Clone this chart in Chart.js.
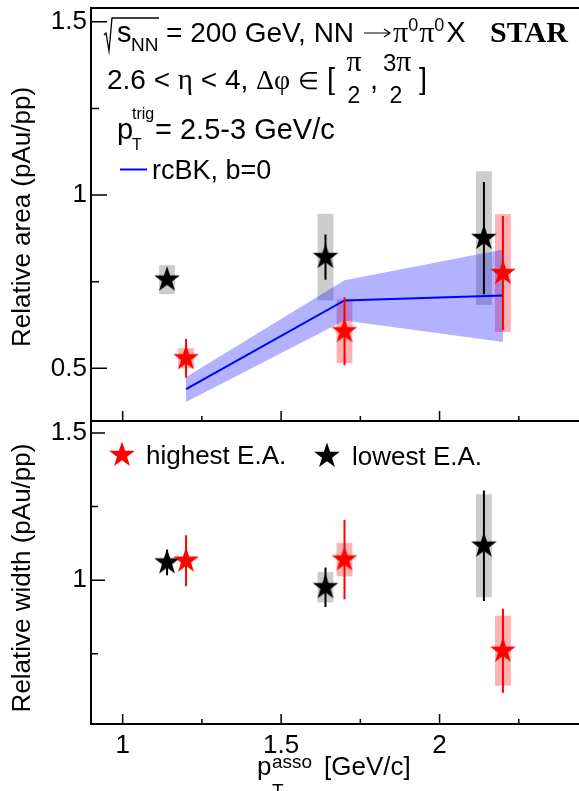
<!DOCTYPE html>
<html>
<head>
<meta charset="utf-8">
<script src="https://cdn.jsdelivr.net/npm/chart.js@4/dist/chart.umd.min.js"></script>
<style>
html, body { margin: 0; padding: 0; background: #fff; overflow: hidden; }
#wrap { position: relative; width: 579px; height: 791px; overflow: hidden; background: #fff; }
canvas { position: absolute; left: 0; }
</style>
</head>
<body>
<div id="wrap">
  <canvas id="cTop" width="600" height="425" style="top:0px"></canvas>
  <canvas id="cBot" width="600" height="372" style="top:419px"></canvas>
</div>
<script>
// x positions (GeV/c), lowest E.A. drawn slightly left, highest slightly right
const ptLow = [1.14, 1.64, 2.14];
const ptHigh = [1.20, 1.70, 2.20];

// relative area
const areaLow = [0.756, 0.821, 0.876];
const areaLowStat = [0.006, 0.065, 0.162];
const areaLowSys = [0.042, 0.125, 0.193];
const areaHigh = [0.529, 0.607, 0.775];
const areaHighStat = [0.056, 0.098, 0.165];
const areaHighSys = [0.029, 0.092, 0.170];

// rcBK, b=0 curve + band
const rcX = [1.2, 1.7, 2.2];
const rcMid = [0.440, 0.696, 0.710];
const rcUp = [0.475, 0.754, 0.843];
const rcLo = [0.403, 0.638, 0.576];

// relative width
const widthLow = [1.060, 0.976, 1.117];
const widthLowStat = [0.043, 0.067, 0.188];
const widthLowSys = [0.0, 0.052, 0.175];
const widthHigh = [1.066, 1.070, 0.760];
const widthHighStat = [0.087, 0.135, 0.143];
const widthHighSys = [0.0, 0.057, 0.119];

// tick labels
const xTicks = [1, 1.5, 2];
const xMinor = [1.25, 1.75, 2.25];
const areaTicks = [0.5, 1, 1.5];
const areaMinor = [0.75, 1.25];
const widthTicks = [1, 1.5];
const widthMinor = [0.75, 1.25];

const SANS = '"Liberation Sans", Arial, Helvetica, sans-serif';
const SERIF = '"Liberation Serif", "Times New Roman", serif';

function makeStar(color) {
  const c = document.createElement('canvas');
  c.width = 30; c.height = 30;
  const g = c.getContext('2d');
  const R = 13.5, r = 5.3;
  g.beginPath();
  for (let i = 0; i < 10; i++) {
    const a = -Math.PI / 2 + i * Math.PI / 5;
    const rr = i % 2 === 0 ? R : r;
    g.lineTo(15 + rr * Math.cos(a), 15 + rr * Math.sin(a));
  }
  g.closePath();
  g.fillStyle = color;
  g.fill();
  return c;
}
const redStar = makeStar('#ff0000');
const blackStar = makeStar('#000000');

function pts(xs, ys) {
  return xs.map((x, i) => ({ x: x, y: ys[i] }));
}

// draw text, return advance
function txt(ctx, s, x, y, size, fam, weight, align) {
  ctx.font = (weight || '') + ' ' + size + 'px ' + (fam || SANS);
  ctx.textAlign = align || 'left';
  ctx.textBaseline = 'alphabetic';
  ctx.fillText(s, x, y);
  return ctx.measureText(s).width;
}

function drawFrame(chart) {
  const ctx = chart.ctx, a = chart.chartArea;
  ctx.save();
  ctx.strokeStyle = '#000';
  ctx.lineWidth = 2;
  ctx.strokeRect(a.left, a.top, a.right - a.left, a.bottom - a.top);
  ctx.restore();
}

// ROOT style ticks pointing inwards
function drawTicks(chart, yMaj, yMin, yMajLen, yMinLen) {
  const ctx = chart.ctx, a = chart.chartArea;
  const xs = chart.scales.x, ys = chart.scales.y;
  ctx.save();
  ctx.strokeStyle = '#000';
  ctx.lineWidth = 1.5;
  ctx.beginPath();
  yMaj.forEach(v => { const p = ys.getPixelForValue(v); ctx.moveTo(a.left, p); ctx.lineTo(a.left + yMajLen, p); });
  yMin.forEach(v => { const p = ys.getPixelForValue(v); ctx.moveTo(a.left, p); ctx.lineTo(a.left + yMinLen, p); });
  xTicks.forEach(v => { const p = xs.getPixelForValue(v); ctx.moveTo(p, a.bottom); ctx.lineTo(p, a.bottom - 10); });
  xMinor.forEach(v => { const p = xs.getPixelForValue(v); ctx.moveTo(p, a.bottom); ctx.lineTo(p, a.bottom - 5); });
  ctx.stroke();
  ctx.restore();
}

// systematic boxes behind everything, stat bars under each star set
const errBars = {
  id: 'errBars',
  beforeDatasetsDraw(chart) {
    const ctx = chart.ctx, xs = chart.scales.x, ys = chart.scales.y;
    ctx.save();
    chart.data.datasets.forEach(ds => {
      if (!ds.sys) return;
      ds.data.forEach((p, i) => {
        const s = ds.sys[i];
        if (!s) return;
        const x0 = xs.getPixelForValue(p.x - 0.025), x1 = xs.getPixelForValue(p.x + 0.025);
        const y0 = ys.getPixelForValue(p.y + s), y1 = ys.getPixelForValue(p.y - s);
        ctx.fillStyle = ds.boxColor;
        ctx.fillRect(x0, y0, x1 - x0, y1 - y0);
      });
    });
    ctx.restore();
  },
  beforeDatasetDraw(chart, args) {
    const ds = chart.data.datasets[args.index];
    if (!ds.stat) return;
    const ctx = chart.ctx, xs = chart.scales.x, ys = chart.scales.y;
    ctx.save();
    ctx.strokeStyle = ds.barColor;
    ctx.lineWidth = 2;
    ctx.beginPath();
    ds.data.forEach((p, i) => {
      const px = xs.getPixelForValue(p.x);
      ctx.moveTo(px, ys.getPixelForValue(p.y + ds.stat[i]));
      ctx.lineTo(px, ys.getPixelForValue(p.y - ds.stat[i]));
    });
    ctx.stroke();
    ctx.restore();
  }
};

function yTitle(ctx, s, x, y) {
  ctx.save();
  ctx.translate(x, y);
  ctx.rotate(-Math.PI / 2);
  ctx.font = '26px ' + SANS;
  ctx.fillStyle = '#000';
  ctx.textAlign = 'center';
  ctx.textBaseline = 'alphabetic';
  ctx.fillText(s, 0, 0);
  ctx.restore();
}

const topDecor = {
  id: 'topDecor',
  afterDraw(chart) {
    const ctx = chart.ctx;
    drawFrame(chart);
    drawTicks(chart, areaTicks, areaMinor, 16, 8);
    ctx.save();
    ctx.fillStyle = '#000';
    yTitle(ctx, 'Relative area (pAu/pp)', 30, 217);

    // line 1
    const b1 = 42;
    ctx.strokeStyle = '#000';
    ctx.lineWidth = 1.3;
    ctx.beginPath();
    ctx.moveTo(104, 35); ctx.lineTo(106, 33); ctx.lineTo(109, 51); ctx.lineTo(112, 18); ctx.lineTo(159, 18);
    ctx.stroke();
    txt(ctx, 's', 117, b1, 29);
    txt(ctx, 'NN', 131, b1 + 9, 19);
    txt(ctx, '= 200 GeV, NN', 166, b1, 28);
    // arrow
    ctx.lineWidth = 1.2;
    ctx.beginPath();
    ctx.moveTo(364, b1 - 9); ctx.lineTo(390, b1 - 9);
    ctx.moveTo(384, b1 - 13); ctx.lineTo(390, b1 - 9); ctx.lineTo(384, b1 - 5);
    ctx.stroke();
    let x = 393;
    x += txt(ctx, '\u03c0', x, b1, 30, SERIF);
    x += txt(ctx, '0', x, b1 - 11, 18);
    x += txt(ctx, '\u03c0', x + 1, b1, 30, SERIF) + 1;
    x += txt(ctx, '0', x, b1 - 11, 18) + 2;
    txt(ctx, 'X', x, b1, 29);
    txt(ctx, 'STAR', 490, b1, 30, SERIF, 'bold');

    // line 2
    const b2 = 89;
    x = 107;
    x += txt(ctx, '2.6 < ', x, b2, 28);
    x += txt(ctx, '\u03b7', x, b2, 29, SERIF);
    x += txt(ctx, ' < 4, ', x, b2, 28);
    x += txt(ctx, '\u0394\u03c6', x, b2, 28, SERIF);
    txt(ctx, '\u2208', Math.max(x + 8, 292), b2, 24, SERIF);
    txt(ctx, '[', 327, b2, 29);
    txt(ctx, '\u03c0', 354, 71, 30, SERIF, '', 'center');
    txt(ctx, '2', 354, 103, 23, SANS, '', 'center');
    txt(ctx, ',', 370, b2, 29);
    const w3 = txt(ctx, '3', 383, 71, 24);
    txt(ctx, '\u03c0', 383 + w3, 71, 30, SERIF);
    txt(ctx, '2', 396, 103, 23, SANS, '', 'center');
    txt(ctx, ']', 419, b2, 29);

    // line 3
    const b3 = 139;
    txt(ctx, 'p', 117, b3, 29);
    txt(ctx, 'trig', 132, b3 - 20, 16);
    txt(ctx, 'T', 132, b3 + 11, 16);
    txt(ctx, '= 2.5-3 GeV/c', 155, b3, 29);

    // line 4
    ctx.strokeStyle = '#0000ff';
    ctx.lineWidth = 2;
    ctx.beginPath(); ctx.moveTo(120, 169.5); ctx.lineTo(147, 169.5); ctx.stroke();
    txt(ctx, 'rcBK, b=0', 152, 179, 27);
    ctx.restore();
  }
};

const botDecor = {
  id: 'botDecor',
  afterDraw(chart) {
    const ctx = chart.ctx;
    drawFrame(chart);
    drawTicks(chart, widthTicks, widthMinor, 14, 7);
    ctx.save();
    ctx.fillStyle = '#000';
    yTitle(ctx, 'Relative width (pAu/pp)', 30, 159);
    // legend
    ctx.drawImage(redStar, 122 - 15, 36 - 15);
    txt(ctx, 'highest E.A.', 146, 45, 26);
    ctx.drawImage(blackStar, 327 - 15, 37 - 15);
    txt(ctx, 'lowest E.A.', 352, 46, 26);
    // x title
    txt(ctx, 'p', 257, 356, 26);
    txt(ctx, 'asso', 272, 349, 19);
    txt(ctx, 'T', 272, 378, 19);
    txt(ctx, '[GeV/c]', 324, 356, 26);
    ctx.restore();
  }
};

function yScale(min, max, ticks) {
  return {
    type: 'linear', min: min, max: max,
    afterFit(s) { s.width = 91; s.paddingTop = 0; s.paddingBottom = 0; },
    afterBuildTicks(s) { s.ticks = ticks.map(v => ({ value: v })); },
    grid: { display: false, drawTicks: false },
    border: { display: false },
    ticks: { color: '#000', padding: 4, font: { family: SANS, size: 26 }, callback: v => String(v) }
  };
}

function starSet(label, xs, ys, img, stat, sys, barColor, boxColor) {
  return {
    label: label, data: pts(xs, ys), pointStyle: img, pointRadius: 13,
    showLine: false, order: 0,
    stat: stat, sys: sys, barColor: barColor, boxColor: boxColor
  };
}

const common = {
  responsive: false, animation: false, events: [],
  plugins: { legend: { display: false }, tooltip: { enabled: false } }
};

new Chart(document.getElementById('cTop'), {
  type: 'scatter',
  data: {
    datasets: [
      starSet('highest E.A.', ptHigh, areaHigh, redStar, areaHighStat, areaHighSys, '#ff0000', 'rgba(255,0,0,0.3)'),
      starSet('lowest E.A.', ptLow, areaLow, blackStar, areaLowStat, areaLowSys, '#000000', 'rgba(0,0,0,0.2)'),
      { label: 'rcBK, b=0', data: pts(rcX, rcMid), showLine: true, borderColor: '#0000ff', borderWidth: 2,
        pointRadius: 0, fill: false, order: 1 },
      { label: 'up', data: pts(rcX, rcUp), showLine: true, borderWidth: 0, borderColor: 'rgba(0,0,0,0)',
        pointRadius: 0, fill: '+1', backgroundColor: 'rgba(0,0,255,0.3)', order: 2 },
      { label: 'lo', data: pts(rcX, rcLo), showLine: true, borderWidth: 0, borderColor: 'rgba(0,0,0,0)',
        pointRadius: 0, fill: false, order: 2 }
    ]
  },
  options: Object.assign({}, common, {
    layout: { autoPadding: false, padding: { top: 8, bottom: 4, left: 0, right: 2 } },
    scales: {
      x: { type: 'linear', min: 0.9, max: 2.5, display: false },
      y: yScale(0.348, 1.54, areaTicks)
    }
  }),
  plugins: [errBars, topDecor]
});

new Chart(document.getElementById('cBot'), {
  type: 'scatter',
  data: {
    datasets: [
      starSet('highest E.A.', ptHigh, widthHigh, redStar, widthHighStat, widthHighSys, '#ff0000', 'rgba(255,0,0,0.3)'),
      starSet('lowest E.A.', ptLow, widthLow, blackStar, widthLowStat, widthLowSys, '#000000', 'rgba(0,0,0,0.2)')
    ]
  },
  options: Object.assign({}, common, {
    layout: { autoPadding: false, padding: { top: 2, bottom: 0, left: 0, right: 2 } },
    scales: {
      x: {
        type: 'linear', min: 0.9, max: 2.5,
        afterFit(s) { s.height = 67; s.paddingLeft = 0; s.paddingRight = 0; },
        afterBuildTicks(s) { s.ticks = xTicks.map(v => ({ value: v })); },
        grid: { display: false, drawTicks: false },
        border: { display: false },
        ticks: { color: '#000', padding: 6, maxRotation: 0, font: { family: SANS, size: 26 }, callback: v => String(v) }
      },
      y: yScale(0.511, 1.541, widthTicks)
    }
  }),
  plugins: [errBars, botDecor]
});
</script>
</body>
</html>
